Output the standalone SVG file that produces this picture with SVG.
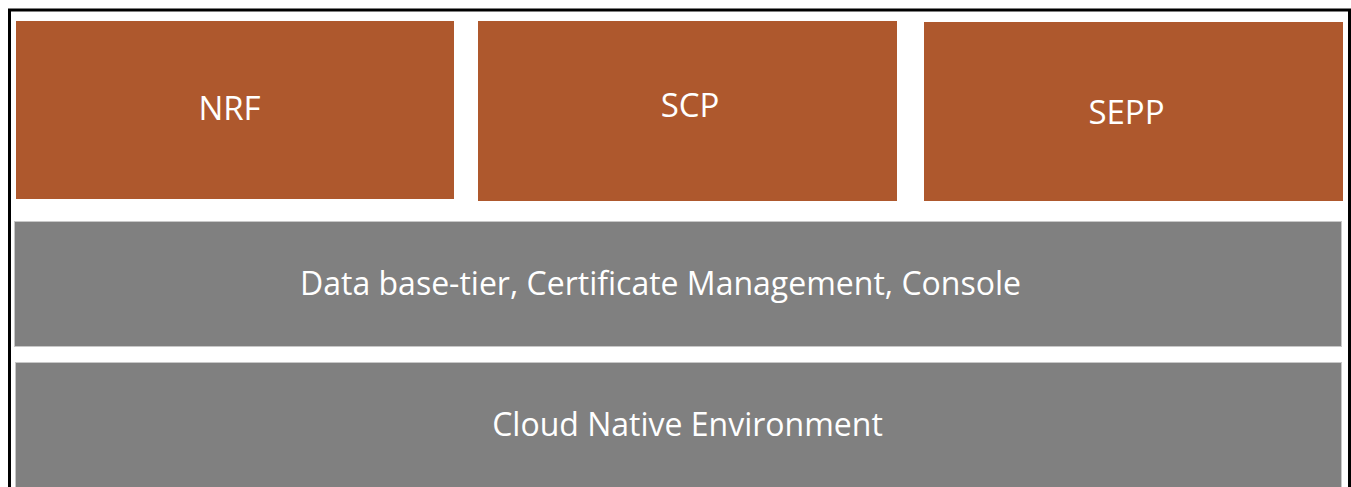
<svg xmlns="http://www.w3.org/2000/svg" width="1351" height="487" viewBox="0 0 1351 487">
<style>
.nf{fill:#AE582D}
.gr{fill:#808080;stroke:#c8c8c8;stroke-width:1}
.t{fill:#ffffff;font-family:"Open Sans",sans-serif;font-size:32px;text-anchor:middle}
</style>
<rect x="0" y="0" width="1351" height="487" fill="#ffffff"/>
<path d="M9.5,488 V10 H1349.5 V488" fill="none" stroke="#000" stroke-width="3"/>
<g id="nrf"><rect class="nf" x="16" y="21" width="438" height="178"/><text class="t" x="229.5" y="120" style="font-size:33px">NRF</text></g>
<g id="scp"><rect class="nf" x="478" y="21" width="419" height="180"/><text class="t" x="690" y="117" style="font-size:33px">SCP</text></g>
<g id="sepp"><rect class="nf" x="924" y="22" width="419" height="179"/><text class="t" x="1126.5" y="124" style="font-size:33px">SEPP</text></g>
<g id="db"><rect class="gr" x="14.5" y="221.5" width="1327" height="125"/><text class="t" x="660.5" y="295">Data base-tier, Certificate Management, Console</text></g>
<g id="cne"><rect class="gr" x="15.5" y="362.5" width="1326" height="130"/><text class="t" x="687.5" y="436">Cloud Native Environment</text></g>
<g id="connectors"></g>
</svg>
